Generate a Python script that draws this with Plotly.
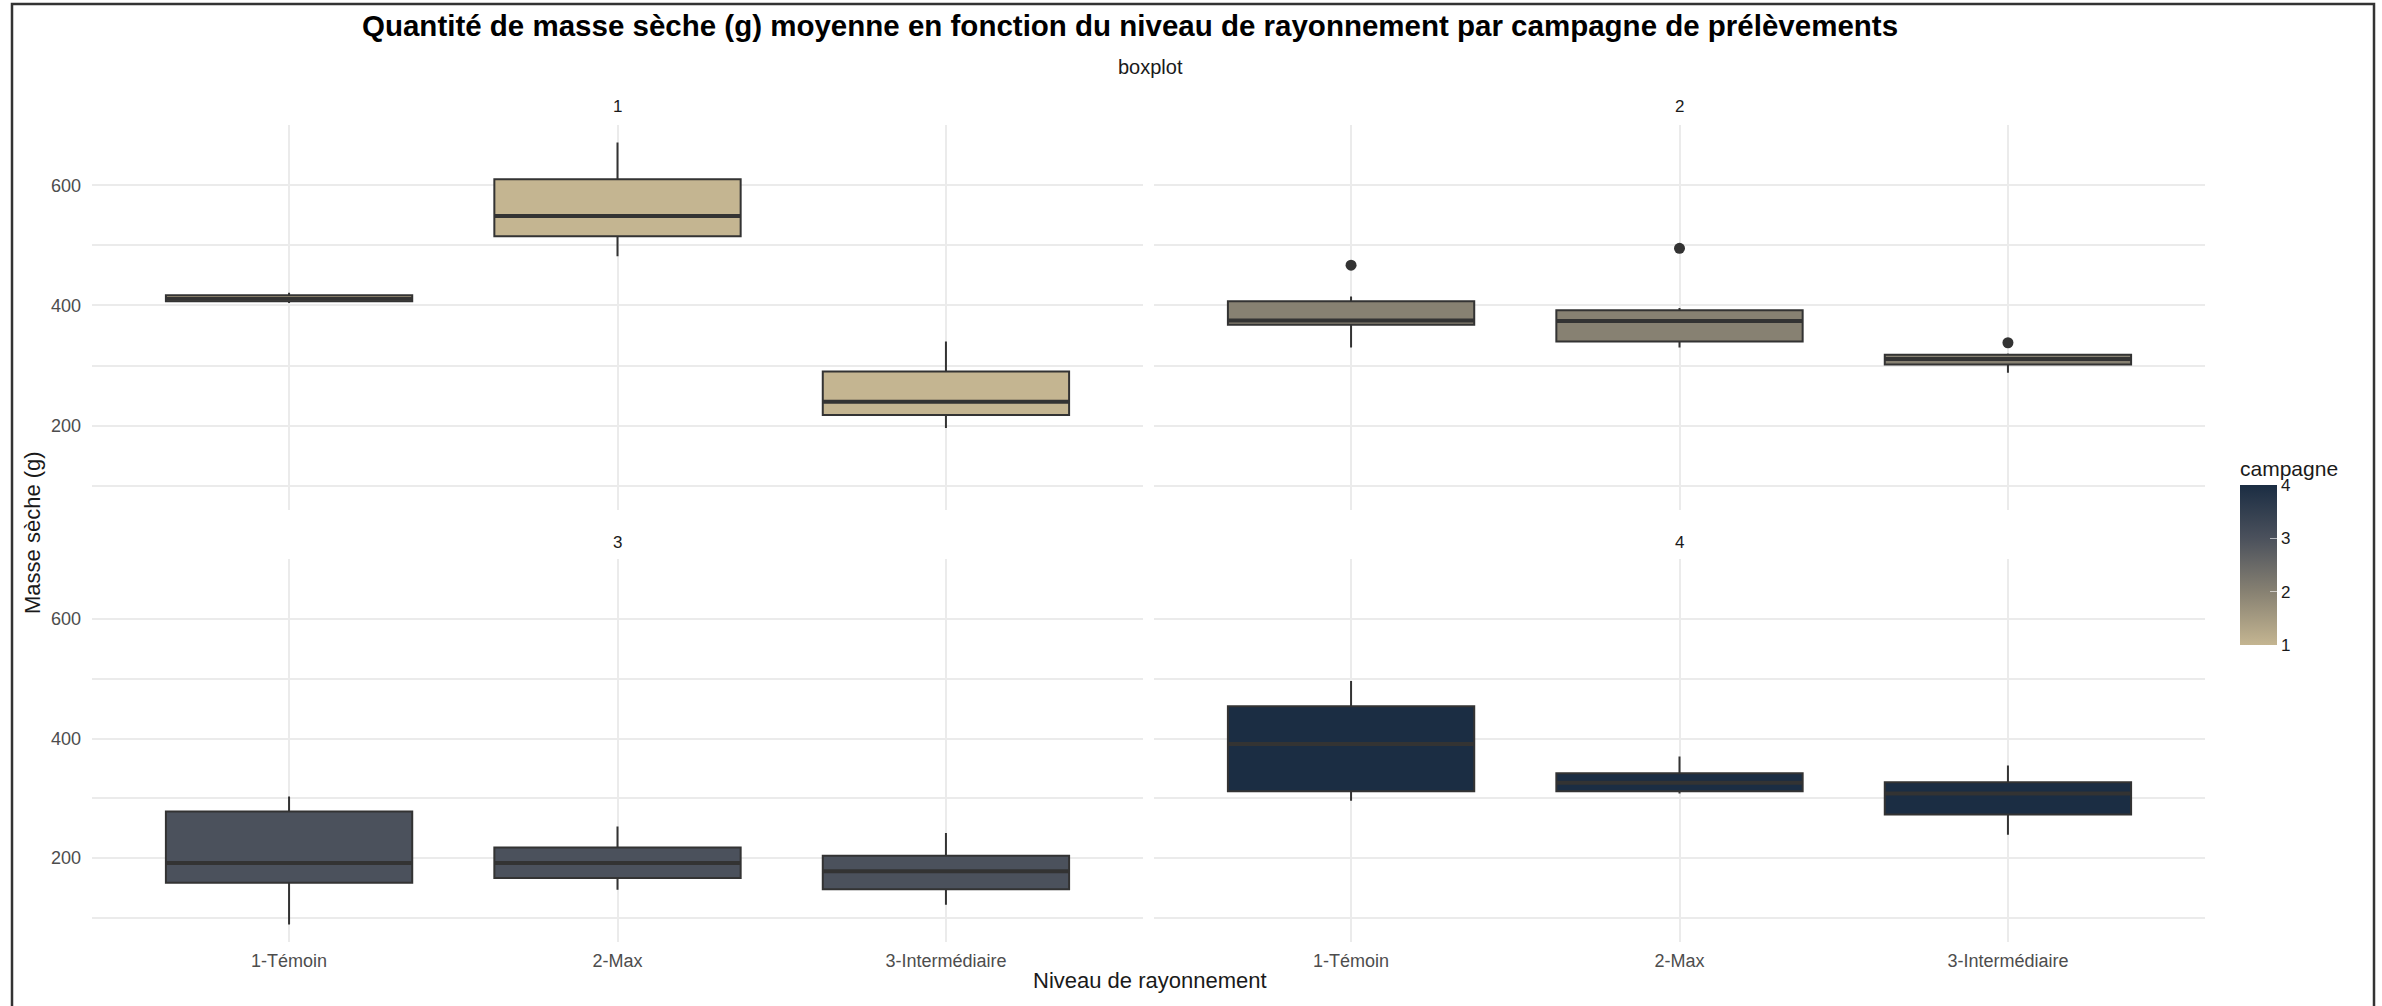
import plotly.graph_objects as go
from plotly.subplots import make_subplots

# ---- data ----
categories = ["1-Témoin", "2-Max", "3-Intermédiaire"]
campagnes = [1, 2, 3, 4]

lower = {
    1: [404, 482, 196],
    2: [330, 330, 288],
    3: [89, 147, 122],
    4: [296, 308, 239],
}
q1 = {
    1: [407, 515, 218],
    2: [368, 340, 302],
    3: [159, 167, 148],
    4: [312, 312, 273],
}
median = {
    1: [411, 549, 240],
    2: [375, 374, 311],
    3: [192, 192, 178],
    4: [391, 326, 308],
}
q3 = {
    1: [417, 610, 290],
    2: [407, 392, 318],
    3: [278, 218, 204],
    4: [454, 342, 327],
}
upper = {
    1: [421, 671, 340],
    2: [415, 396, 320],
    3: [303, 253, 242],
    4: [496, 370, 355],
}
outlier_x = {2: ["1-Témoin", "2-Max", "3-Intermédiaire"]}
outlier_y = {2: [467, 495, 338]}

fill_colors = {1: "#C4B591", 2: "#878172", 3: "#4B515C", 4: "#1B2D43"}
colorscale = [[0, "#C4B591"], [1 / 3, "#878172"], [2 / 3, "#4B515C"], [1, "#1B2D43"]]

y_major = [200, 400, 600]
y_minor = [100, 300, 500, 700]

W, H = 2382, 1006
FONT = "Liberation Sans, Arial, sans-serif"


def px_x(p):
    return p / W


def px_y(p):
    return 1 - p / H


fig = make_subplots(rows=2, cols=2)

pos = {1: (1, 1), 2: (1, 2), 3: (2, 1), 4: (2, 2)}
for c in campagnes:
    r, col = pos[c]
    fig.add_trace(go.Box(
        x=categories, q1=q1[c], median=median[c], q3=q3[c],
        lowerfence=lower[c], upperfence=upper[c],
        fillcolor=fill_colors[c], line=dict(color="#333333", width=2),
        width=0.75, whiskerwidth=0, boxpoints=False, showlegend=False,
        hoverinfo="skip",
    ), row=r, col=col)
    # thicker median line
    fig.add_trace(go.Box(
        x=categories, q1=median[c], median=median[c], q3=median[c],
        lowerfence=median[c], upperfence=median[c],
        fillcolor="#333333", line=dict(color="#333333", width=4),
        width=0.75, whiskerwidth=0, boxpoints=False, showlegend=False,
        hoverinfo="skip",
    ), row=r, col=col)
    if c in outlier_y:
        fig.add_trace(go.Scatter(
            x=outlier_x[c], y=outlier_y[c], mode="markers",
            marker=dict(color="#333333", size=11), showlegend=False,
            hoverinfo="skip",
        ), row=r, col=col)

# colour bar (campagne)
fig.add_trace(go.Scatter(
    x=[None, None], y=[None, None], mode="markers", showlegend=False,
    marker=dict(color=[1, 4], cmin=1, cmax=4, colorscale=colorscale, showscale=True,
                colorbar=dict(
                    title=dict(text="campagne", side="top", font=dict(size=21, color="#1A1A1A", family=FONT)),
                    tickvals=[1, 2, 3, 4], ticks="inside", ticklen=7, tickcolor="rgba(255,255,255,0.6)",
                    tickfont=dict(size=17, color="#1A1A1A", family=FONT),
                    x=px_x(2240), xanchor="left", xpad=0,
                    y=px_y(457), yanchor="top", ypad=0,
                    lenmode="pixels", len=188, thicknessmode="pixels", thickness=37,
                    outlinewidth=0,
                )),
), row=1, col=2)

xdom = {1: [px_x(92), px_x(1143)], 2: [px_x(1154), px_x(2205)]}
ydom = {1: [px_y(510), px_y(125)], 2: [px_y(942), px_y(559)]}

for c in campagnes:
    r, col = pos[c]
    fig.update_xaxes(
        type="category", categoryorder="array", categoryarray=categories,
        range=[-0.6, 2.6], domain=xdom[col],
        showgrid=True, gridcolor="#EBEBEB", gridwidth=1.5,
        showline=False, zeroline=False, ticks="",
        showticklabels=(r == 2), tickfont=dict(size=18, color="#4D4D4D", family=FONT),
        ticklabelstandoff=6,
        row=r, col=col,
    )
    fig.update_yaxes(
        range=[59.8, 700.2], domain=ydom[r],
        tickvals=y_major, showgrid=True, gridcolor="#EBEBEB", gridwidth=2,
        minor=dict(tickvals=y_minor, showgrid=True, gridcolor="#EBEBEB", gridwidth=2, ticks=""),
        showline=False, zeroline=False, ticks="",
        showticklabels=(col == 1), tickfont=dict(size=18, color="#4D4D4D", family=FONT),
        ticklabelstandoff=10,
        row=r, col=col,
    )

annotations = [
    dict(text="<b>Quantité de masse sèche (g) moyenne en fonction du niveau de rayonnement par campagne de prélèvements</b>",
         x=px_x(1130), y=px_y(26), font=dict(size=29.5, color="#000000", family=FONT)),
    dict(text="boxplot", x=px_x(1150), y=px_y(67), font=dict(size=20, color="#1A1A1A", family=FONT)),
    dict(text="1", x=px_x(617), y=px_y(107), font=dict(size=17, color="#1A1A1A", family=FONT)),
    dict(text="2", x=px_x(1679), y=px_y(107), font=dict(size=17, color="#1A1A1A", family=FONT)),
    dict(text="3", x=px_x(617), y=px_y(542), font=dict(size=17, color="#1A1A1A", family=FONT)),
    dict(text="4", x=px_x(1679), y=px_y(542), font=dict(size=17, color="#1A1A1A", family=FONT)),
    dict(text="Niveau de rayonnement", x=px_x(1150), y=px_y(980), font=dict(size=22, color="#1A1A1A", family=FONT)),
    dict(text="Masse sèche (g)", x=px_x(32), y=px_y(533), textangle=-90, font=dict(size=22, color="#1A1A1A", family=FONT)),
]
for a in annotations:
    a.update(xref="paper", yref="paper", showarrow=False, xanchor="center", yanchor="middle")

fig.update_layout(
    width=W, height=H, autosize=False,
    margin=dict(l=0, r=0, t=0, b=0, pad=0),
    paper_bgcolor="white", plot_bgcolor="white",
    font=dict(family=FONT),
    annotations=annotations,
    boxmode="overlay",
    shapes=[dict(type="rect", xref="paper", yref="paper",
                 x0=px_x(12), x1=px_x(2374), y0=-0.05, y1=px_y(4),
                 line=dict(color="#333333", width=2.5), fillcolor="rgba(0,0,0,0)", layer="above")],
)

fig.write_html("out.html", config={"displayModeBar": False},
               post_script="document.body.style.margin='0';document.body.style.overflow='hidden';")
